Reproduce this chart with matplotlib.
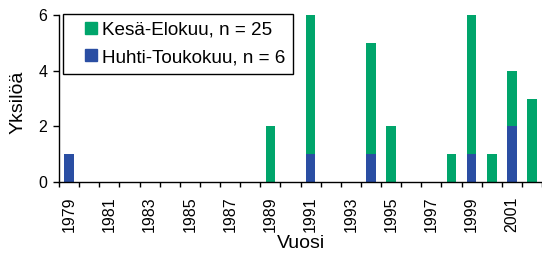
import numpy as np
import matplotlib.pyplot as plt
from matplotlib.patches import Rectangle
from matplotlib.legend_handler import HandlerPatch

# =============================
# DATA
# =============================
years = list(range(1979, 2003))
huhti = [1, 0, 0, 0, 0, 0, 0, 0, 0, 0, 0, 0, 1, 0, 0, 1, 0, 0, 0, 0, 1, 0, 2, 0]
kesa  = [0, 0, 0, 0, 0, 0, 0, 0, 0, 0, 2, 0, 5, 0, 0, 4, 2, 0, 0, 1, 5, 1, 2, 3]

lab_kesa = "Kesä-Elokuu, n = 25"
lab_huhti = "Huhti-Toukokuu, n = 6"

col_kesa = "#00a56b"
col_huhti = "#2a4ea3"

plt.rcParams["font.family"] = ["Liberation Sans", "DejaVu Sans"]

fig = plt.figure(figsize=(5.42, 2.56), dpi=100)
ax = fig.add_axes([0.109, 0.289, 0.891, 0.652])

x = np.arange(len(years))
ax.bar(x, huhti, width=0.48, color=col_huhti)
ax.bar(x, kesa, width=0.48, bottom=huhti, color=col_kesa)

ax.set_xlim(-0.5, len(years) - 0.5)
ax.set_ylim(0, 6)
ax.set_yticks([0, 2, 4, 6])

# ticks between categories, labels every other year
ax.set_xticks(x[::2])
ax.set_xticklabels([str(y) for y in years[::2]], rotation=90)
ax.set_xticks(np.arange(-0.5, len(years), 1), minor=True)
ax.tick_params(axis="x", which="major", length=0, pad=10.5, labelsize=11.5)
ax.tick_params(axis="x", which="minor", length=3.5, width=1)
ax.tick_params(axis="y", length=4, width=1, pad=4.5, labelsize=11.5)

for s in ["top", "right"]:
    ax.spines[s].set_visible(False)
for s in ["left", "bottom"]:
    ax.spines[s].set_linewidth(1)

ax.set_ylabel("Yksilöä", fontsize=14)
ax.yaxis.set_label_coords(-0.068, 0.48)
ax.set_xlabel("Vuosi", fontsize=14)
ax.xaxis.set_label_coords(0.5, -0.315)


# square marker sitting at the right end of a wider handle box
def square_patch(legend, orig_handle, xdescent, ydescent, width, height, fontsize):
    return Rectangle((-xdescent + width - height, -ydescent), height, height)


proxies = [Rectangle((0, 0), 1, 1, color=col_kesa),
           Rectangle((0, 0), 1, 1, color=col_huhti)]
leg = ax.legend(proxies, [lab_kesa, lab_huhti], loc="upper left",
                bbox_to_anchor=(0.008, 1.006), borderaxespad=0,
                fontsize=13.6, fancybox=False, edgecolor="black",
                framealpha=1, handlelength=1.4, handleheight=0.6,
                handletextpad=0.25, borderpad=0.4, labelspacing=0.55,
                handler_map={Rectangle: HandlerPatch(patch_func=square_patch)})
leg.get_frame().set_linewidth(1)

fig.savefig("out.png", dpi=100)
